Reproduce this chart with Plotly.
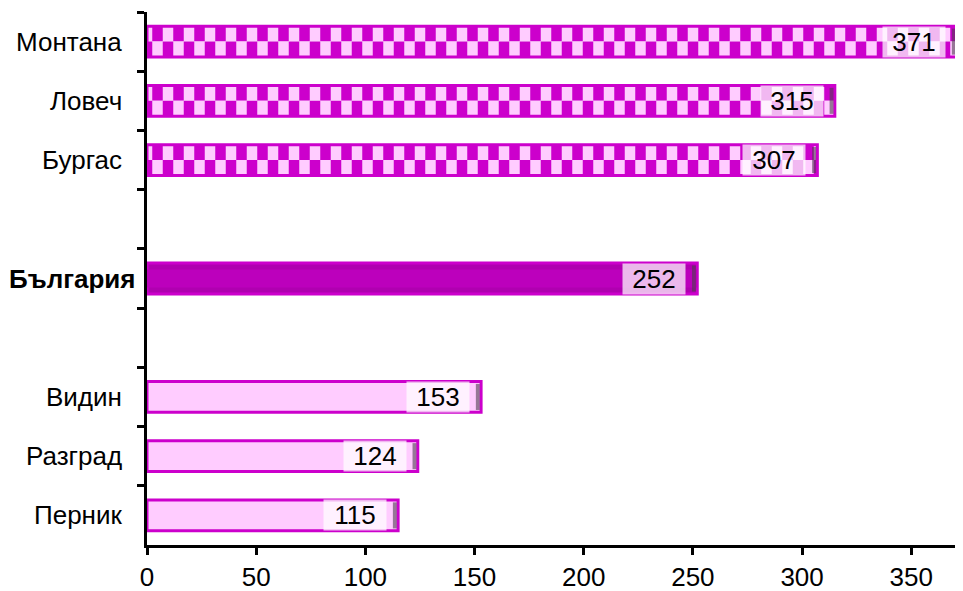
import plotly.graph_objects as go

# -----------------------------
# Data (top to bottom, blanks are spacer rows)
# -----------------------------
regions = ["Монтана", "Ловеч", "Бургас", " ", "България", "  ", "Видин", "Разград", "Перник"]
values = [371, 315, 307, None, 252, None, 153, 124, 115]
groups = ["high", "high", "high", "gap", "country", "gap", "low", "low", "low"]

EDGE = "#CC00CC"
LIGHT = "#FFCCFF"
DARK = "#B000B0"
FONT = "Liberation Sans, Arial, sans-serif"
W = 0.52

fig = go.Figure()


def pick(name):
    ys = [r for r, g in zip(regions, groups) if g == name]
    xs = [v for v, g in zip(values, groups) if g == name]
    return ys, xs


# checkered bars: two half-height bars with swapped stripe colours
ys, xs = pick("high")
for off, fg, bg in [(-W / 2, EDGE, LIGHT), (0, LIGHT, EDGE)]:
    fig.add_trace(go.Bar(
        y=ys, x=xs, orientation="h", width=W / 2, offset=off,
        marker=dict(color=bg, line=dict(width=0),
                    pattern=dict(shape="|", fgcolor=fg, bgcolor=bg, size=21,
                                 solidity=0.5, fillmode="replace")),
        showlegend=False, hoverinfo="skip",
    ))
fig.add_trace(go.Bar(
    y=ys, x=xs, orientation="h", width=W,
    marker=dict(color="rgba(0,0,0,0)", line=dict(color=EDGE, width=3)),
    showlegend=False, hoverinfo="x+y",
))

for name, color in [("country", DARK), ("low", LIGHT)]:
    ys, xs = pick(name)
    fig.add_trace(go.Bar(
        y=ys, x=xs, orientation="h", width=W,
        marker=dict(color=color, line=dict(color=EDGE, width=3)),
        showlegend=False, hoverinfo="x+y",
    ))

# darker core for the country bar (gives the shaded look)
ys, xs = pick("country")
fig.add_trace(go.Bar(
    y=ys, x=xs, orientation="h", width=W - 0.22,
    marker=dict(color="#BC00BC", line=dict(width=0)),
    showlegend=False, hoverinfo="skip",
))

# dark cap at the end of every bar
ys = [r for r, v in zip(regions, values) if v is not None]
xs = [v for v in values if v is not None]
fig.add_trace(go.Bar(
    y=ys, x=[1.8] * len(xs), base=[v - 2.4 for v in xs], orientation="h", width=W - 0.08,
    marker=dict(color="rgba(80,60,80,0.6)", line=dict(width=0)),
    showlegend=False, hoverinfo="skip",
))

# value labels at the bar ends
for r, v in zip(ys, xs):
    fig.add_annotation(
        x=v, y=r, xref="x", yref="y", text=str(v), showarrow=False,
        xanchor="right", xshift=-11, width=60, height=28,
        bgcolor="rgba(255,255,255,0.72)",
        font=dict(family=FONT, size=26, color="black"),
    )

# category labels (bold one sits closer to the axis)
for r in ys:
    bold = r == "България"
    fig.add_annotation(
        x=0, y=r, xref="paper", yref="y",
        text=f"<b>{r}</b>" if bold else r, showarrow=False,
        xanchor="right", xshift=-10 if bold else -23,
        font=dict(family=FONT, size=26, color="black"),
    )

# page body adds an 8px offset, so the figure is shrunk by that much
fig.update_layout(
    width=955, height=583,
    margin=dict(l=139, r=0, t=4, b=46),
    plot_bgcolor="white", paper_bgcolor="white",
    font=dict(family=FONT, size=26, color="black"),
    barmode="overlay",
)
fig.update_xaxes(
    range=[0, 373.7], dtick=50, showgrid=False, zeroline=False,
    showline=True, linecolor="black", linewidth=2.5,
    ticks="outside", ticklen=7, tickwidth=2.5, tickcolor="black",
    tickfont=dict(size=26), automargin=False,
)
fig.update_yaxes(
    type="category", categoryorder="array", categoryarray=regions,
    showticklabels=False,
    autorange="reversed", tickson="boundaries",
    showline=True, linecolor="black", linewidth=3,
    ticks="outside", ticklen=7, tickwidth=2.5, tickcolor="black",
    showgrid=False, automargin=False,
)

fig.write_html("out.html")
